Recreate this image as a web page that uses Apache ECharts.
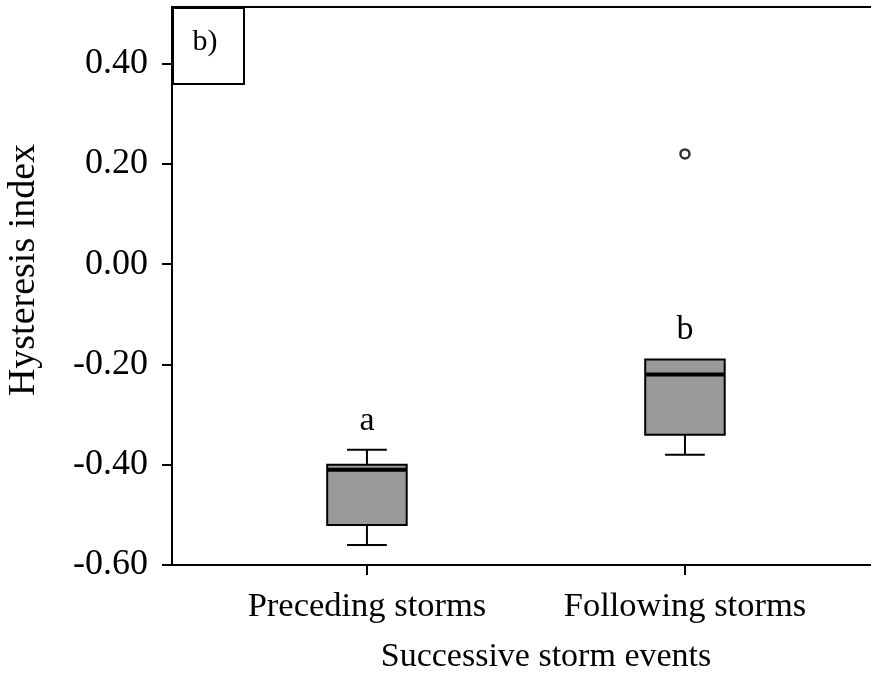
<!DOCTYPE html>
<html>
<head>
<meta charset="utf-8">
<script src="https://cdn.jsdelivr.net/npm/echarts@6/dist/echarts.min.js"></script>
<style>html,body{margin:0;padding:0;background:#fff}#c{width:871px;height:675px}</style>
</head>
<body>
<div id="c"></div>
<script>
// ---- data ----
var categories = ['Preceding storms', 'Following storms'];
var whiskerLow  = [-0.56, -0.38];
var q1          = [-0.52, -0.34];
var median      = [-0.41, -0.22];
var q3          = [-0.40, -0.19];
var whiskerHigh = [-0.37, -0.19];
var outlierCat  = [1];       // category index of each outlier
var outlierVal  = [0.22];
var groupLetters = ['a', 'b'];
var yTicks = [-0.60, -0.40, -0.20, 0.00, 0.20, 0.40];
var panelLabel = 'b)';
var yName = 'Hysteresis index';
var xName = 'Successive storm events';

var FONT = 'Liberation Serif';

var boxData = categories.map(function (c, i) {
  return [i + 1, whiskerLow[i], q1[i], median[i], q3[i], whiskerHigh[i]];
});
var outData = outlierCat.map(function (c, i) { return [c + 1, outlierVal[i]]; });
var letterData = categories.map(function (c, i) { return [i + 1, whiskerHigh[i]]; });

var chart = echarts.init(document.getElementById('c'), null, {renderer: 'canvas'});

function renderBox(params, api) {
  var x = api.value(0);
  var pLow = api.coord([x, api.value(1)]);
  var pQ1 = api.coord([x, api.value(2)]);
  var pMed = api.coord([x, api.value(3)]);
  var pQ3 = api.coord([x, api.value(4)]);
  var pHigh = api.coord([x, api.value(5)]);
  var bw = api.size([0.25, 0])[0];
  var cw = api.size([0.125, 0])[0];
  var cx = pQ1[0];
  var line = {stroke: '#000', lineWidth: 2};
  var children = [
    {type: 'line', shape: {x1: cx, y1: pQ1[1], x2: cx, y2: pLow[1]}, style: line},
    {type: 'line', shape: {x1: cx - cw / 2, y1: pLow[1], x2: cx + cw / 2, y2: pLow[1]}, style: line},
    {type: 'rect', shape: {x: cx - bw / 2, y: pQ3[1], width: bw, height: pQ1[1] - pQ3[1]},
      style: {fill: '#999999', stroke: '#000', lineWidth: 2}},
    {type: 'line', shape: {x1: cx - bw / 2, y1: pMed[1], x2: cx + bw / 2, y2: pMed[1]},
      style: {stroke: '#000', lineWidth: 4}}
  ];
  if (pHigh[1] < pQ3[1] - 0.5) {
    children.push({type: 'line', shape: {x1: cx, y1: pQ3[1], x2: cx, y2: pHigh[1]}, style: line});
    children.push({type: 'line', shape: {x1: cx - cw / 2, y1: pHigh[1], x2: cx + cw / 2, y2: pHigh[1]}, style: line});
  }
  return {type: 'group', children: children};
}

function renderLetter(params, api) {
  var p = api.coord([api.value(0), api.value(1)]);
  return {
    type: 'text',
    style: {
      text: groupLetters[params.dataIndex],
      x: p[0], y: p[1] - 12,
      align: 'center', verticalAlign: 'bottom',
      font: '34px "' + FONT + '"', fill: '#000'
    }
  };
}

var option = {
  animation: false,
  backgroundColor: '#fff',
  grid: {left: 172, right: 0, top: 7, bottom: 110, containLabel: false},
  xAxis: [{
    type: 'value', min: 0.387, max: 2.585,
    splitLine: {show: false},
    axisLine: {show: true, onZero: false, lineStyle: {color: '#000', width: 2}},
    axisTick: {show: true, inside: false, length: 10, customValues: [1, 2], lineStyle: {color: '#000', width: 2}},
    axisLabel: {
      show: true, customValues: [1, 2], margin: 24,
      formatter: function (v) { return categories[Math.round(v) - 1] || ''; },
      fontFamily: FONT, fontSize: 34.5, color: '#000'
    }
  }, {
    type: 'value', position: 'top', min: 0.387, max: 2.585,
    splitLine: {show: false},
    axisLine: {show: true, onZero: false, lineStyle: {color: '#000', width: 2}},
    axisTick: {show: false}, axisLabel: {show: false}
  }],
  yAxis: {
    type: 'value', min: -0.60, max: 0.513,
    splitLine: {show: false},
    axisLine: {show: true, onZero: false, lineStyle: {color: '#000', width: 2}},
    axisTick: {show: true, inside: false, length: 10, customValues: yTicks, lineStyle: {color: '#000', width: 2}},
    axisLabel: {
      show: true, customValues: yTicks, margin: 24,
      formatter: function (v) { return v.toFixed(2); },
      fontFamily: FONT, fontSize: 36, color: '#000'
    }
  },
  series: [{
    type: 'custom', name: 'box', xAxisIndex: 0, renderItem: renderBox, data: boxData,
    encode: {x: 0, y: [1, 2, 3, 4, 5]}, z: 3
  }, {
    type: 'scatter', name: 'outliers', xAxisIndex: 0, data: outData, symbol: 'circle', symbolSize: 9,
    itemStyle: {color: '#fff', borderColor: '#000', borderWidth: 2.5}, z: 4
  }, {
    type: 'custom', name: 'letters', xAxisIndex: 0, renderItem: renderLetter, data: letterData,
    encode: {x: 0, y: 1}, z: 4
  }],
  graphic: [{
    type: 'rect', left: 172, top: 7, z: 10,
    shape: {width: 71, height: 76},
    style: {fill: '#fff', stroke: '#000', lineWidth: 2}
  }, {
    type: 'text', x: 205, y: 42, z: 11,
    style: {text: panelLabel, font: '30px "' + FONT + '"', fill: '#000', align: 'center', verticalAlign: 'middle'}
  }, {
    type: 'text', x: 546, y: 657, z: 11,
    style: {text: xName, font: '34px "' + FONT + '"', fill: '#000', align: 'center', verticalAlign: 'middle'}
  }, {
    type: 'text', x: 24, y: 270, rotation: Math.PI / 2, z: 11,
    style: {text: yName, font: '38px "' + FONT + '"', fill: '#000', align: 'center', verticalAlign: 'middle'}
  }]
};
chart.setOption(option);
</script>
</body>
</html>
